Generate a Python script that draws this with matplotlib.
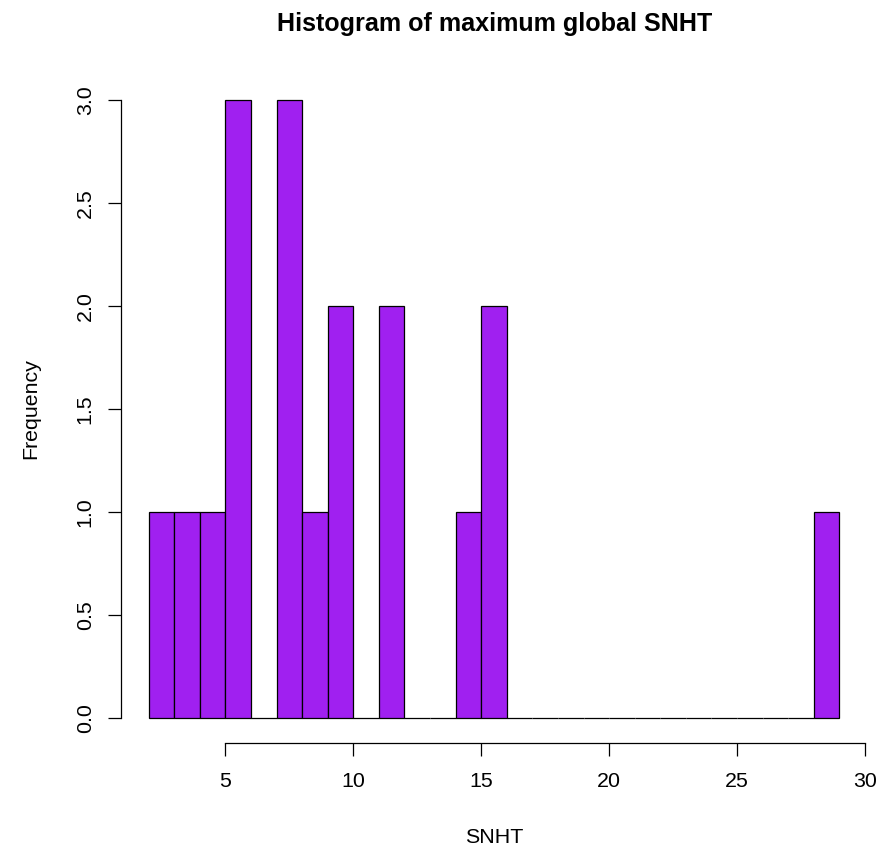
import numpy as np
import matplotlib.pyplot as plt

plt.rcParams['font.family'] = ['Liberation Sans', 'DejaVu Sans']

# histogram of maximum global SNHT, unit-width bins from 2 to 29
bin_edges = np.arange(2, 30)
counts = [1, 1, 1, 3, 0, 3, 1, 2, 0, 2, 0, 0, 1, 2,
          0, 0, 0, 0, 0, 0, 0, 0, 0, 0, 0, 0, 1]
x_ticks = [5, 10, 15, 20, 25, 30]
y_ticks = [0.0, 0.5, 1.0, 1.5, 2.0, 2.5, 3.0]

W, H = 895, 848
base = 15.4

fig = plt.figure(figsize=(W / 100, H / 100), dpi=100)
ax = fig.add_axes([121 / W, 1 - 742.7 / H, (867 - 121) / W, (742.7 - 75.3) / H])

ax.bar(bin_edges[:-1], counts, width=1, align='edge', color='#A020F0',
       edgecolor='black', linewidth=0.9)

# R-style padding around the data range
ax.set_xlim(2 - 0.04 * 27, 29 + 0.04 * 27)
ax.set_ylim(-0.12, 3.12)

for s in ['top', 'right']:
    ax.spines[s].set_visible(False)
ax.spines['left'].set_bounds(0, 3)
ax.spines['bottom'].set_bounds(5, 30)
ax.spines['left'].set_linewidth(0.9)
ax.spines['bottom'].set_linewidth(0.9)

ax.set_xticks(x_ticks)
ax.set_xticklabels([str(t) for t in x_ticks])
ax.set_yticks(y_ticks)
ax.set_yticklabels(['%.1f' % t for t in y_ticks], rotation=90, va='center')
ax.tick_params(axis='both', direction='out', length=9.4, width=0.9, labelsize=base)
ax.tick_params(axis='x', pad=12)
ax.tick_params(axis='y', pad=9.5)

fig.text(494.5 / W, 1 - 31 / H, 'Histogram of maximum global SNHT', fontsize=18.1,
         fontweight='bold', ha='center', va='baseline')
fig.text(494 / W, 1 - 843 / H, 'SNHT', fontsize=base, ha='center', va='baseline')
fig.text(31 / W, 1 - 409 / H, 'Frequency', fontsize=base, ha='center', va='center',
         rotation=90)

fig.savefig('out.png', dpi=100)
